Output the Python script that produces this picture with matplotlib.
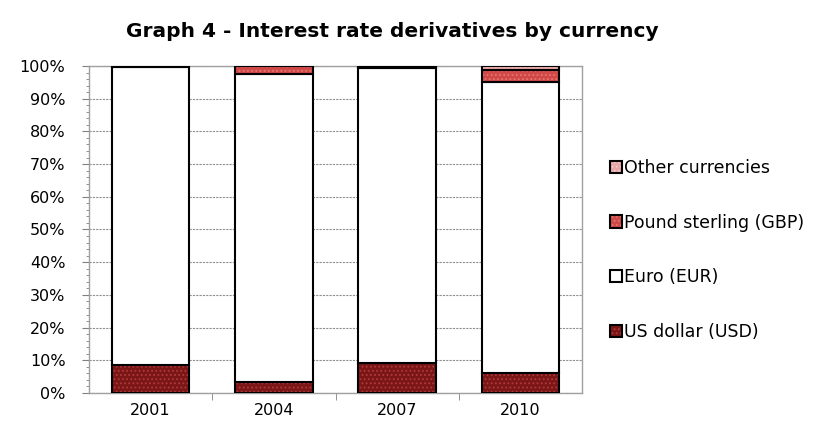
import numpy as np
import matplotlib
matplotlib.use('Agg')
import matplotlib.pyplot as plt
from matplotlib.ticker import PercentFormatter, MultipleLocator, FixedLocator

plt.rcParams['font.family'] = ['DejaVu Sans']
plt.rcParams['hatch.linewidth'] = 0.8

#data (shares in %)
years = ['2001', '2004', '2007', '2010']
usd = [8.6, 3.5, 9.1, 6.0]
eur = [91.2, 94.0, 90.2, 89.0]
gbp = [0.1, 2.5, 0.3, 3.9]
other = [0.1, 0.0, 0.4, 1.1]

series = [
    ('US dollar (USD)', usd, '#7b1616', '#b03a3a'),
    ('Euro (EUR)', eur, 'white', 'white'),
    ('Pound sterling (GBP)', gbp, '#d24848', '#e07a6a'),
    ('Other currencies', other, '#e9a6a6', '#f4d0d0'),
]

fig = plt.figure(figsize=(8.35, 4.37), dpi=100)
ax = fig.add_axes([0.1066, 0.1007, 0.5904, 0.7483])

x = np.arange(len(years))
bottom = np.zeros(len(years))
handles = []
for name, vals, fc, hc in series:
    vals = np.array(vals)
    h = ax.bar(x, vals, 0.63, bottom=bottom, color=fc, edgecolor='black',
               linewidth=1.5, zorder=3, label=name)
    if fc != 'white':
        for p in h:
            p.set_hatch('....')
            p._hatch_color = matplotlib.colors.to_rgba(hc)
    bottom += vals
    handles.append(h)

ax.set_ylim(0, 100)
ax.set_xlim(-0.5, len(years) - 0.5)
ax.yaxis.set_major_locator(MultipleLocator(10))
ax.yaxis.set_minor_locator(MultipleLocator(2))
ax.yaxis.set_major_formatter(PercentFormatter(decimals=0))
ax.grid(axis='y', which='major', color='#909090', linestyle=(0, (2, 1)), linewidth=0.8, zorder=0)

ax.set_xticks(x)
ax.set_xticklabels(years)
ax.xaxis.set_minor_locator(FixedLocator(x[:-1] + 0.5))
ax.tick_params(axis='x', which='major', length=0, pad=7, labelsize=11.5)
ax.tick_params(axis='x', which='minor', length=5, color='#808080', direction='out')
ax.tick_params(axis='y', which='major', length=5, color='#808080', labelsize=11.5, pad=12)
ax.tick_params(axis='y', which='minor', length=2, color='#808080')

for s in ax.spines.values():
    s.set_color('#a0a0a0')
    s.set_linewidth(1.0)

fig.text(0.47, 0.928, 'Graph 4 - Interest rate derivatives by currency',
         ha='center', va='center', fontsize=14.5, fontweight='bold')

leg = fig.legend(handles[::-1], [s[0] for s in series[::-1]], loc='center left',
                 bbox_to_anchor=(0.712, 0.428), frameon=False, fontsize=12.5,
                 handlelength=0.7, handleheight=0.7, handletextpad=0.1,
                 labelspacing=2.12)

fig.savefig('out.png', dpi=100)
